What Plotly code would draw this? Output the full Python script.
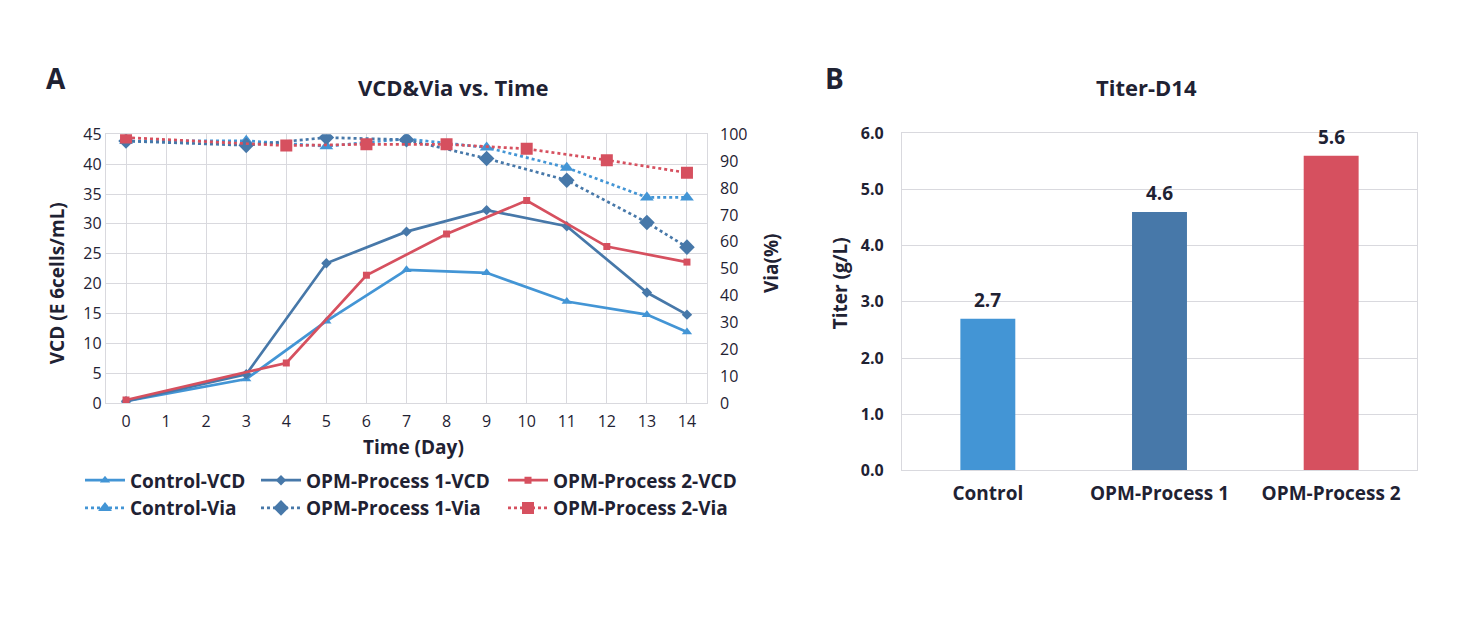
import plotly.graph_objects as go

# ---------------- data ----------------
days_ctrl = [0, 3, 5, 7, 9, 11, 13, 14]
days_p1 = [0, 3, 5, 7, 9, 11, 13, 14]
days_p2 = [0, 4, 6, 8, 10, 12, 14]

ctrl_vcd = [0.3, 4.0, 13.7, 22.3, 21.8, 17.0, 14.8, 11.9]
p1_vcd = [0.3, 4.8, 23.4, 28.7, 32.3, 29.6, 18.5, 14.8]
p2_vcd = [0.5, 6.7, 21.4, 28.3, 33.9, 26.2, 23.6]

ctrl_via = [97.5, 97.6, 95.6, 98.3, 95.1, 87.6, 76.5, 76.5]
p1_via = [97.5, 95.9, 98.8, 98.0, 91.0, 82.9, 67.2, 58.0]
p2_via = [98.8, 95.8, 96.3, 96.3, 94.6, 90.4, 85.7]

titer_cats = ["Control", "OPM-Process 1", "OPM-Process 2"]
titer_vals = [2.7, 4.6, 5.6]

x_ticks = list(range(0, 15))

C_CTRL = "#4395D5"
C_P1 = "#4778A9"
C_P2 = "#D6505F"
TXT = "#1F2233"
GRID = "#D9D9DE"
FONT = "Open Sans"

OFF = 8  # page body margin
W, H = 1469 - 2 * OFF, 625 - 2 * OFF
def px(x):
    return (x - OFF) / W
def py(y):
    page = (y - 13.7) / 0.958
    return 1 - (page - OFF) / H

fig = go.Figure()

def add_line(x, y, name, color, symbol, size, dash, yaxis, legend):
    fig.add_trace(go.Scatter(
        x=x, y=y, name=name, mode="lines+markers",
        line=dict(color=color, width=2.7, dash=dash),
        marker=dict(color=color, symbol=symbol, size=size),
        xaxis="x", yaxis=yaxis, legend=legend,
    ))

add_line(days_ctrl, ctrl_vcd, "Control-VCD", C_CTRL, "triangle-up", 9, "solid", "y", "legend")
add_line(days_ctrl, ctrl_via, "Control-Via", C_CTRL, "triangle-up", 12, "dot", "y2", "legend")
add_line(days_p1, p1_vcd, "OPM-Process 1-VCD", C_P1, "diamond", 8, "solid", "y", "legend2")
add_line(days_p1, p1_via, "OPM-Process 1-Via", C_P1, "diamond", 12, "dot", "y2", "legend2")
add_line(days_p2, p2_vcd, "OPM-Process 2-VCD", C_P2, "square", 7, "solid", "y", "legend3")
add_line(days_p2, p2_via, "OPM-Process 2-Via", C_P2, "square", 12, "dot", "y2", "legend3")

fig.add_trace(go.Bar(
    x=titer_cats, y=titer_vals, marker=dict(color=[C_CTRL, C_P1, C_P2], line=dict(width=0)),
    width=0.32, xaxis="x3", yaxis="y3", showlegend=False,
))
# value labels above bars
for c, v in zip(titer_cats, titer_vals):
    fig.add_annotation(x=c, y=v, xref="x3", yref="y3", text=f"{v:.1f}", showarrow=False,
                       yanchor="middle", yshift=19,
                       font=dict(family=FONT, size=19, color=TXT, weight="bold"))

ax_common = dict(showgrid=True, gridcolor=GRID, gridwidth=1.3, showline=True,
                 linecolor=GRID, linewidth=1.3, mirror=True, zeroline=False,
                 ticks="")

leg_common = dict(orientation="v", xanchor="left", yanchor="top", bgcolor="rgba(0,0,0,0)",
                  font=dict(family=FONT, size=19, color=TXT, weight="bold"),
                  tracegroupgap=0, itemwidth=40)

fig.update_layout(
    width=W, height=H, margin=dict(l=0, r=0, t=0, b=0),
    paper_bgcolor="white", plot_bgcolor="white",
    font=dict(family=FONT, color=TXT),
    xaxis=dict(domain=[px(106), px(707)], range=[-0.5, 14.5], tickvals=x_ticks,
               tickfont=dict(size=16, color=TXT), anchor="y", ticklabelstandoff=4, **ax_common),
    yaxis=dict(domain=[py(403), py(136)], range=[0, 45], dtick=5,
               tickfont=dict(size=16, color=TXT), anchor="x", **ax_common),
    yaxis2=dict(overlaying="y", side="right", range=[0, 100], dtick=10, showgrid=False,
                showline=False, zeroline=False, tickfont=dict(size=16, color=TXT),
                anchor="x", ticks="", ticklabelstandoff=12),
    xaxis3=dict(domain=[px(902), px(1417)], range=[-0.5, 2.5], anchor="y3",
                tickfont=dict(size=19, color=TXT, weight="bold"), ticklabelstandoff=6,
                **{**ax_common, "showgrid": False}),
    yaxis3=dict(domain=[py(470), py(135)], range=[0, 6], dtick=1, tickformat=".1f",
                tickfont=dict(size=16, color=TXT, weight="bold"), anchor="x3",
                ticklabelstandoff=14, **ax_common),
    legend=dict(x=px(80), y=py(461), **leg_common),
    legend2=dict(x=px(256), y=py(461), **leg_common),
    legend3=dict(x=px(503), y=py(461), **leg_common),
)

ann = [
    dict(text="A", x=px(56), y=py(80), font=dict(size=28, weight="bold")),
    dict(text="B", x=px(834), y=py(80), font=dict(size=28, weight="bold")),
    dict(text="VCD&Via vs. Time", x=px(453), y=py(89), font=dict(size=22, weight="bold")),
    dict(text="Titer-D14", x=px(1146), y=py(89), font=dict(size=22, weight="bold")),
    dict(text="Time (Day)", x=px(413), y=py(447), font=dict(size=19, weight="bold")),
    dict(text="VCD (E 6cells/mL)", x=px(57), y=py(284), textangle=-90, font=dict(size=19, weight="bold")),
    dict(text="Via(%)", x=px(771), y=py(264), textangle=-90, font=dict(size=19, weight="bold")),
    dict(text="Titer (g/L)", x=px(840), y=py(284), textangle=-90, font=dict(size=19, weight="bold")),
]
for a in ann:
    a["font"] = dict(family=FONT, color=TXT, **a["font"])
    fig.add_annotation(xref="paper", yref="paper", showarrow=False,
                       xanchor="center", yanchor="middle", **a)

fig.write_html("out.html")
